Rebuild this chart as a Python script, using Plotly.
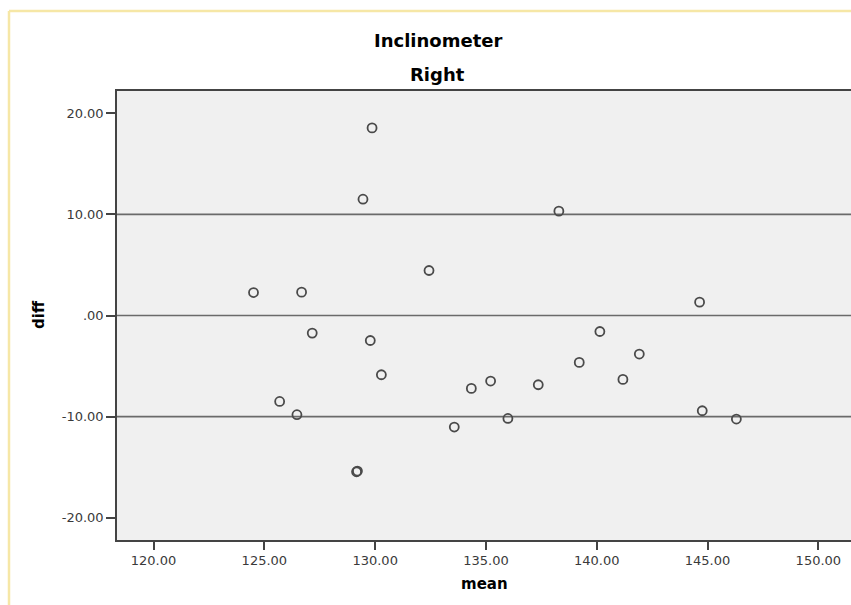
import plotly.graph_objects as go

# Data (Bland-Altman style: mean vs diff)
mean_vals = [124.51, 126.68, 127.16, 125.69, 126.47, 129.16, 129.20, 129.45, 129.86,
             129.78, 130.28, 132.43, 133.57, 134.34, 135.21, 135.99, 137.36, 138.29,
             139.21, 140.14, 141.18, 141.92, 144.64, 144.76, 146.30]
diff_vals = [2.27, 2.31, -1.74, -8.50, -9.81, -15.45, -15.38, 11.50, 18.55,
             -2.47, -5.86, 4.45, -11.03, -7.21, -6.48, -10.18, -6.85, 10.32,
             -4.64, -1.58, -6.32, -3.81, 1.32, -9.42, -10.24]
ref_lines = [10, 0, -10]

x_ticks = [120, 125, 130, 135, 140, 145, 150]
x_tick_text = ["120.00", "125.00", "130.00", "135.00", "140.00", "145.00", "150.00"]
y_ticks = [20, 10, 0, -10, -20]
y_tick_text = ["20.00", "10.00", ".00", "-10.00", "-20.00"]

title_line1 = "Inclinometer"
title_line2 = "Right"
x_title = "mean"
y_title = "diff"

W, H = 880, 605
L, T, B, R = 117, 91, 65, 0
pw, ph = W - L - R, H - T - B


def px_to_paper_x(px):
    return (px - L) / pw


def py_to_paper_y(py):
    return (H - B - py) / ph


fig = go.Figure()
fig.add_trace(go.Scatter(
    x=mean_vals, y=diff_vals, mode="markers",
    marker=dict(symbol="circle-open", size=9, color="#4a4a4a",
                line=dict(width=1.8, color="#4a4a4a")),
    showlegend=False, hoverinfo="x+y",
))

for v in ref_lines:
    fig.add_hline(y=v, line=dict(color="#6a6a6a", width=1.7), layer="below")

tick_font = dict(family="DejaVu Sans", size=13, color="#3a3a3a")
fig.update_layout(
    width=W, height=H,
    margin=dict(l=L, r=R, t=T, b=B, pad=0),
    paper_bgcolor="white",
    plot_bgcolor="#f0f0f0",
    font=dict(family="DejaVu Sans", color="black"),
    xaxis=dict(
        range=[118.35, 118.35 + pw / 22.16], tickvals=x_ticks, ticktext=x_tick_text,
        showgrid=False, zeroline=False, showline=True, linecolor="#444444",
        linewidth=1.5, mirror=True, ticks="outside", ticklen=8, tickwidth=1.5,
        tickcolor="#444444", tickfont=tick_font,
    ),
    yaxis=dict(
        range=[-22.2, 22.2], tickvals=y_ticks, ticktext=y_tick_text,
        showgrid=False, zeroline=False, showline=True, linecolor="#444444",
        linewidth=1.5, ticks="outside", ticklen=9, tickwidth=1.5,
        tickcolor="#444444", tickfont=tick_font,
    ),
)

# outer pale-yellow frame (left and top edges visible in the reference)
frame_color = "#f6e7a6"
fig.add_shape(type="line", xref="paper", yref="paper",
              x0=px_to_paper_x(9), x1=px_to_paper_x(W + 5),
              y0=py_to_paper_y(11), y1=py_to_paper_y(11),
              line=dict(color=frame_color, width=2.5))
fig.add_shape(type="line", xref="paper", yref="paper",
              x0=px_to_paper_x(9), x1=px_to_paper_x(9),
              y0=py_to_paper_y(11), y1=py_to_paper_y(H + 5),
              line=dict(color=frame_color, width=2.5))

ann_font = dict(family="DejaVu Sans", size=18, color="black")
fig.add_annotation(text="<b>%s</b>" % title_line1, xref="paper", yref="paper",
                   x=px_to_paper_x(437.5), y=py_to_paper_y(40.5),
                   showarrow=False, font=ann_font, xanchor="center", yanchor="middle")
fig.add_annotation(text="<b>%s</b>" % title_line2, xref="paper", yref="paper",
                   x=px_to_paper_x(437.5), y=py_to_paper_y(74.5),
                   showarrow=False, font=ann_font, xanchor="center", yanchor="middle")
fig.add_annotation(text="<b>%s</b>" % x_title, xref="paper", yref="paper",
                   x=px_to_paper_x(484), y=py_to_paper_y(584),
                   showarrow=False, font=dict(family="DejaVu Sans", size=15, color="black"),
                   xanchor="center", yanchor="middle")
fig.add_annotation(text="<b>%s</b>" % y_title, xref="paper", yref="paper",
                   x=px_to_paper_x(39), y=py_to_paper_y(315),
                   showarrow=False, textangle=-90,
                   font=dict(family="DejaVu Sans", size=15, color="black"),
                   xanchor="center", yanchor="middle")

fig.write_html(
    "out.html",
    config={"displayModeBar": False},
    post_script=("document.documentElement.style.overflow='hidden';"
                 "document.body.style.margin='0';document.body.style.overflow='hidden';"),
)
